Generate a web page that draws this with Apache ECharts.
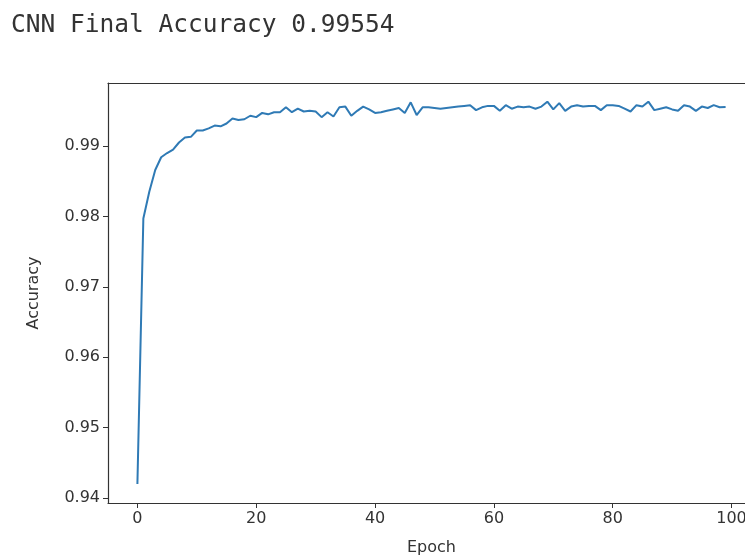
<!DOCTYPE html>
<html>
<head>
<meta charset="utf-8">
<script src="https://cdn.jsdelivr.net/npm/echarts@6/dist/echarts.min.js"></script>
<style>
html,body{margin:0;padding:0;background:#fff;}
#chart{width:745px;height:559px;}
</style>
</head>
<body>
<div id="chart"></div>
<script>
const titleText = "CNN Final Accuracy 0.99554";
const xName = "Epoch";
const yName = "Accuracy";
const xTicks = [0, 20, 40, 60, 80, 100];
const yTicks = [0.94, 0.95, 0.96, 0.97, 0.98, 0.99];
const accuracy = [
  0.9420, 0.9797, 0.9835, 0.9866, 0.9884, 0.9890, 0.9895, 0.9905, 0.9912, 0.9913,
  0.9922, 0.9922, 0.9925, 0.9929, 0.9928, 0.9932, 0.9939, 0.9937, 0.9938, 0.9943,
  0.9941, 0.9947, 0.9945, 0.9948, 0.9948, 0.9955, 0.9948, 0.9953, 0.9949, 0.9950,
  0.9949, 0.9941, 0.9948, 0.9942, 0.9955, 0.9956, 0.9943, 0.9950, 0.9956, 0.9952,
  0.9947, 0.9948, 0.9950, 0.9952, 0.9954, 0.9947, 0.9962, 0.9944, 0.9955, 0.9955,
  0.9954, 0.9953, 0.9954, 0.9955, 0.9956, 0.9957, 0.9958, 0.9951, 0.9955, 0.9957,
  0.9957, 0.9950, 0.9958, 0.9953, 0.9956, 0.9955, 0.9956, 0.9953, 0.9956, 0.9963,
  0.9952, 0.9961, 0.9950, 0.9956, 0.9958, 0.9956, 0.9957, 0.9957, 0.9951, 0.9958,
  0.9958, 0.9957, 0.9953, 0.9949, 0.9958, 0.9956, 0.9963, 0.9951, 0.9953, 0.9955,
  0.9952, 0.9950, 0.9958, 0.9956, 0.9950, 0.9956, 0.9954, 0.9958, 0.9955, 0.99554
];
const epochs = accuracy.map((_, i) => i);
const seriesData = epochs.map((e, i) => [e, accuracy[i]]);

const axisFont = 'DejaVu Sans';
const chart = echarts.init(document.getElementById('chart'), null, {renderer: 'canvas'});
const spine = {show: true, onZero: false, lineStyle: {color: '#333', width: 1.2}};
chart.setOption({
  animation: false,
  backgroundColor: '#fff',
  title: {
    text: titleText,
    left: 6,
    top: 8,
    textStyle: {fontFamily: 'DejaVu Sans Mono', fontSize: 24.5, fontWeight: 'normal', color: '#333'}
  },
  grid: {left: 108, top: 83, width: 647, height: 420, containLabel: false, outerBoundsMode: 'none'},
  xAxis: [{
    type: 'value', min: -4.95, max: 103.95,
    name: xName, nameLocation: 'middle', nameGap: 37,
    nameTextStyle: {fontFamily: axisFont, fontSize: 16, color: '#333'},
    axisLine: spine,
    axisTick: {show: true, inside: false, length: 5, customValues: xTicks, lineStyle: {color: '#333'}},
    axisLabel: {customValues: xTicks, fontFamily: axisFont, fontSize: 16, color: '#333', margin: 8},
    splitLine: {show: false}
  }, {
    type: 'value', position: 'top', min: -4.95, max: 103.95,
    axisLine: spine, axisTick: {show: false}, axisLabel: {show: false}, splitLine: {show: false}
  }],
  yAxis: [{
    type: 'value', min: 0.9393, max: 0.99895,
    name: yName, nameLocation: 'middle', nameGap: 66, nameRotate: 90,
    nameTextStyle: {fontFamily: axisFont, fontSize: 16, color: '#333'},
    axisLine: spine,
    axisTick: {show: true, inside: false, length: 5, customValues: yTicks, lineStyle: {color: '#333'}},
    axisLabel: {customValues: yTicks, fontFamily: axisFont, fontSize: 16, color: '#333', margin: 8,
      formatter: v => v.toFixed(2)},
    splitLine: {show: false}
  }, {
    type: 'value', position: 'right', min: 0.9393, max: 0.99895,
    axisLine: spine, axisTick: {show: false}, axisLabel: {show: false}, splitLine: {show: false}
  }],
  series: [{
    type: 'line',
    data: seriesData,
    showSymbol: false,
    lineStyle: {color: '#2f7ab5', width: 2},
    itemStyle: {color: '#2f7ab5'}
  }]
});
</script>
</body>
</html>
